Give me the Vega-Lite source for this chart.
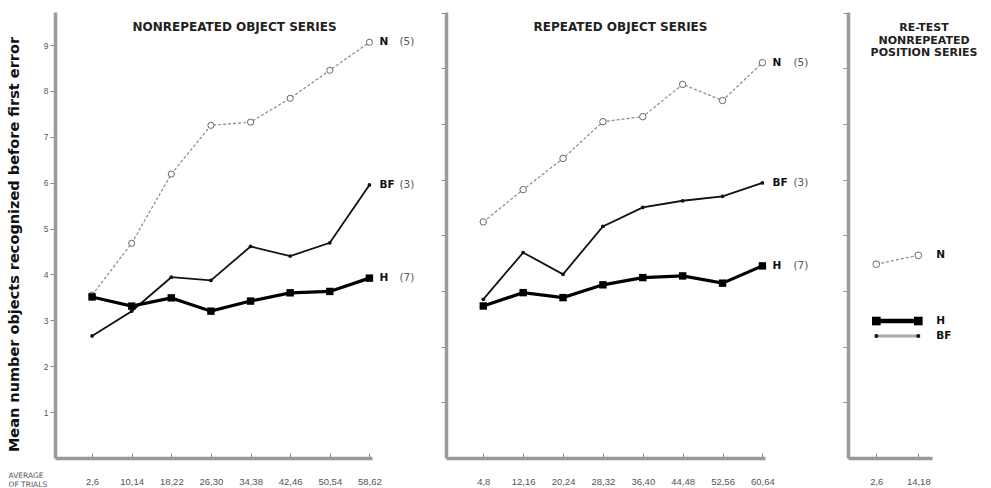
{
  "$schema": "https://vega.github.io/schema/vega-lite/v6.json",
  "padding": {"left": 6, "top": 12, "right": 4, "bottom": 0},
  "background": "white",
  "datasets": {
    "main": [
      {"panel": "A", "trials": "2,6", "ord": 1, "series": "N", "value": 3.55},
      {"panel": "A", "trials": "10,14", "ord": 2, "series": "N", "value": 4.68},
      {"panel": "A", "trials": "18,22", "ord": 3, "series": "N", "value": 6.19},
      {"panel": "A", "trials": "26,30", "ord": 4, "series": "N", "value": 7.25},
      {"panel": "A", "trials": "34,38", "ord": 5, "series": "N", "value": 7.32},
      {"panel": "A", "trials": "42,46", "ord": 6, "series": "N", "value": 7.84},
      {"panel": "A", "trials": "50,54", "ord": 7, "series": "N", "value": 8.45},
      {"panel": "A", "trials": "58,62", "ord": 8, "series": "N", "value": 9.06},
      {"panel": "A", "trials": "2,6", "ord": 1, "series": "BF", "value": 2.66},
      {"panel": "A", "trials": "10,14", "ord": 2, "series": "BF", "value": 3.2},
      {"panel": "A", "trials": "18,22", "ord": 3, "series": "BF", "value": 3.94},
      {"panel": "A", "trials": "26,30", "ord": 4, "series": "BF", "value": 3.87},
      {"panel": "A", "trials": "34,38", "ord": 5, "series": "BF", "value": 4.61},
      {"panel": "A", "trials": "42,46", "ord": 6, "series": "BF", "value": 4.4},
      {"panel": "A", "trials": "50,54", "ord": 7, "series": "BF", "value": 4.69},
      {"panel": "A", "trials": "58,62", "ord": 8, "series": "BF", "value": 5.95},
      {"panel": "A", "trials": "2,6", "ord": 1, "series": "H", "value": 3.51},
      {"panel": "A", "trials": "10,14", "ord": 2, "series": "H", "value": 3.31},
      {"panel": "A", "trials": "18,22", "ord": 3, "series": "H", "value": 3.49},
      {"panel": "A", "trials": "26,30", "ord": 4, "series": "H", "value": 3.2},
      {"panel": "A", "trials": "34,38", "ord": 5, "series": "H", "value": 3.42},
      {"panel": "A", "trials": "42,46", "ord": 6, "series": "H", "value": 3.6},
      {"panel": "A", "trials": "50,54", "ord": 7, "series": "H", "value": 3.63},
      {"panel": "A", "trials": "58,62", "ord": 8, "series": "H", "value": 3.92},
      {"panel": "B", "trials": "4,8", "ord": 1, "series": "N", "value": 4.24},
      {"panel": "B", "trials": "12,16", "ord": 2, "series": "N", "value": 4.82},
      {"panel": "B", "trials": "20,24", "ord": 3, "series": "N", "value": 5.38},
      {"panel": "B", "trials": "28,32", "ord": 4, "series": "N", "value": 6.04},
      {"panel": "B", "trials": "36,40", "ord": 5, "series": "N", "value": 6.13},
      {"panel": "B", "trials": "44,48", "ord": 6, "series": "N", "value": 6.71},
      {"panel": "B", "trials": "52,56", "ord": 7, "series": "N", "value": 6.42},
      {"panel": "B", "trials": "60,64", "ord": 8, "series": "N", "value": 7.1},
      {"panel": "B", "trials": "4,8", "ord": 1, "series": "BF", "value": 2.85},
      {"panel": "B", "trials": "12,16", "ord": 2, "series": "BF", "value": 3.69},
      {"panel": "B", "trials": "20,24", "ord": 3, "series": "BF", "value": 3.3},
      {"panel": "B", "trials": "28,32", "ord": 4, "series": "BF", "value": 4.16},
      {"panel": "B", "trials": "36,40", "ord": 5, "series": "BF", "value": 4.5},
      {"panel": "B", "trials": "44,48", "ord": 6, "series": "BF", "value": 4.62},
      {"panel": "B", "trials": "52,56", "ord": 7, "series": "BF", "value": 4.7},
      {"panel": "B", "trials": "60,64", "ord": 8, "series": "BF", "value": 4.94},
      {"panel": "B", "trials": "4,8", "ord": 1, "series": "H", "value": 2.73},
      {"panel": "B", "trials": "12,16", "ord": 2, "series": "H", "value": 2.97},
      {"panel": "B", "trials": "20,24", "ord": 3, "series": "H", "value": 2.88},
      {"panel": "B", "trials": "28,32", "ord": 4, "series": "H", "value": 3.11},
      {"panel": "B", "trials": "36,40", "ord": 5, "series": "H", "value": 3.24},
      {"panel": "B", "trials": "44,48", "ord": 6, "series": "H", "value": 3.27},
      {"panel": "B", "trials": "52,56", "ord": 7, "series": "H", "value": 3.14},
      {"panel": "B", "trials": "60,64", "ord": 8, "series": "H", "value": 3.45},
      {"panel": "C", "trials": "2,6", "ord": 1, "series": "N", "value": 3.48},
      {"panel": "C", "trials": "14,18", "ord": 2, "series": "N", "value": 3.64},
      {"panel": "C", "trials": "2,6", "ord": 1, "series": "H", "value": 2.46},
      {"panel": "C", "trials": "14,18", "ord": 2, "series": "H", "value": 2.46},
      {"panel": "C", "trials": "2,6", "ord": 1, "series": "BF", "value": 2.19},
      {"panel": "C", "trials": "14,18", "ord": 2, "series": "BF", "value": 2.19}
    ],
    "groups": [
      {"series": "N", "n": "(5)"},
      {"series": "BF", "n": "(3)"},
      {"series": "H", "n": "(7)"}
    ]
  },
  "bounds": "flush",
  "spacing": 74,
  "hconcat": [
    {
      "width": 317,
      "height": 446,
      "data": {"name": "main"},
      "transform": [
        {"filter": "datum.panel == 'A'"},
        {"lookup": "series", "from": {"data": {"name": "groups"}, "key": "series", "fields": ["n"]}}
      ],
      "title": {"text": "NONREPEATED OBJECT SERIES", "dx": 21, "offset": -22},
      "encoding": {
        "x": {
          "field": "trials", "type": "ordinal", "sort": {"field": "ord", "op": "min"},
          "scale": {"type": "point", "paddingOuter": 0.38, "align": 0.935},
          "axis": {
            "title": ["AVERAGE", "OF TRIALS"], "titleX": -47, "titleY": 13, "titleAlign": "left",
            "titleBaseline": "top", "titleFontSize": 7.5, "titleLineHeight": 9, "titleFontWeight": "normal",
            "titleColor": "#555", "titleFont": "DejaVu Sans"
          }
        },
        "y": {
          "field": "value", "type": "quantitative",
          "scale": {"domain": [0, 9.72], "nice": false, "zero": true},
          "axis": {
            "title": "Mean number objects recognized before first error",
            "values": [1, 2, 3, 4, 5, 6, 7, 8, 9], "format": "d",
            "titleFont": "DejaVu Sans", "titleFontSize": 14.5, "titleFontWeight": "bold", "titleColor": "#111",
            "titlePadding": 22, "titleY": 232, "labelPadding": 2
          }
        }
      },
      "layer": [
        {"transform": [{"filter": "datum.series == 'N'"}], "mark": {"type": "line", "stroke": "#8a8a8a", "strokeWidth": 1.2, "strokeDash": [3, 2]}},
        {"transform": [{"filter": "datum.series == 'N'"}], "mark": {"type": "point", "shape": "circle", "filled": false, "fill": "white", "fillOpacity": 1, "stroke": "#666", "strokeWidth": 1, "size": 38, "opacity": 1}},
        {"transform": [{"filter": "datum.series == 'BF'"}], "mark": {"type": "line", "stroke": "#111", "strokeWidth": 1.8}},
        {"transform": [{"filter": "datum.series == 'BF'"}], "mark": {"type": "circle", "fill": "#111", "size": 14, "opacity": 1}},
        {"transform": [{"filter": "datum.series == 'H'"}], "mark": {"type": "line", "stroke": "#000", "strokeWidth": 3.2}},
        {"transform": [{"filter": "datum.series == 'H'"}], "mark": {"type": "square", "fill": "#000", "size": 55, "opacity": 1}},
        {"transform": [{"filter": "datum.ord == 8"}], "mark": {"type": "text", "align": "left", "dx": 10, "font": "DejaVu Sans", "fontWeight": "bold", "fontSize": 10.5, "fill": "#111"}, "encoding": {"text": {"field": "series"}}},
        {"transform": [{"filter": "datum.ord == 8"}], "mark": {"type": "text", "align": "left", "dx": 30, "font": "DejaVu Sans", "fontSize": 10.5, "fill": "#555"}, "encoding": {"text": {"field": "n"}}}
      ]
    },
    {
      "bounds": "flush",
      "spacing": 83,
      "hconcat": [
        {
          "width": 319,
          "height": 446,
          "data": {"name": "main"},
          "transform": [
            {"filter": "datum.panel == 'B'"},
            {"lookup": "series", "from": {"data": {"name": "groups"}, "key": "series", "fields": ["n"]}}
          ],
          "title": {"text": "REPEATED OBJECT SERIES", "dx": 15, "offset": -22},
          "encoding": {
            "x": {
              "field": "trials", "type": "ordinal", "sort": {"field": "ord", "op": "min"},
              "scale": {"type": "point", "paddingOuter": 0.377, "align": 0.935},
              "axis": {"title": null}
            },
            "y": {
              "field": "value", "type": "quantitative",
              "scale": {"domain": [0, 8.01], "nice": false, "zero": true},
              "axis": {"title": null, "labels": false, "values": [1, 2, 3, 4, 5, 6, 7, 8]}
            }
          },
          "layer": [
            {"transform": [{"filter": "datum.series == 'N'"}], "mark": {"type": "line", "stroke": "#8a8a8a", "strokeWidth": 1.2, "strokeDash": [3, 2]}},
            {"transform": [{"filter": "datum.series == 'N'"}], "mark": {"type": "point", "shape": "circle", "filled": false, "fill": "white", "fillOpacity": 1, "stroke": "#666", "strokeWidth": 1, "size": 42, "opacity": 1}},
            {"transform": [{"filter": "datum.series == 'BF'"}], "mark": {"type": "line", "stroke": "#111", "strokeWidth": 1.8}},
            {"transform": [{"filter": "datum.series == 'BF'"}], "mark": {"type": "circle", "fill": "#111", "size": 14, "opacity": 1}},
            {"transform": [{"filter": "datum.series == 'H'"}], "mark": {"type": "line", "stroke": "#000", "strokeWidth": 3.2}},
            {"transform": [{"filter": "datum.series == 'H'"}], "mark": {"type": "square", "fill": "#000", "size": 55, "opacity": 1}},
            {"transform": [{"filter": "datum.ord == 8"}], "mark": {"type": "text", "align": "left", "dx": 10, "font": "DejaVu Sans", "fontWeight": "bold", "fontSize": 10.5, "fill": "#111"}, "encoding": {"text": {"field": "series"}}},
            {"transform": [{"filter": "datum.ord == 8"}], "mark": {"type": "text", "align": "left", "dx": 31, "font": "DejaVu Sans", "fontSize": 10.5, "fill": "#555"}, "encoding": {"text": {"field": "n"}}}
          ]
        },
        {
          "width": 84,
          "height": 446,
          "data": {"name": "main"},
          "transform": [{"filter": "datum.panel == 'C'"}],
          "title": {"text": ["RE-TEST", "NONREPEATED", "POSITION SERIES"], "dx": 34, "offset": -46, "fontSize": 11, "lineHeight": 12.5},
          "encoding": {
            "x": {
              "field": "trials", "type": "ordinal", "sort": {"field": "ord", "op": "min"},
              "scale": {"type": "point", "paddingOuter": 0.524, "align": 0.674},
              "axis": {"title": null}
            },
            "y": {
              "field": "value", "type": "quantitative",
              "scale": {"domain": [0, 8.01], "nice": false, "zero": true},
              "axis": {"title": null, "labels": false, "values": [1, 2, 3, 4, 5, 6, 7, 8]}
            }
          },
          "layer": [
            {"transform": [{"filter": "datum.series == 'N'"}], "mark": {"type": "line", "stroke": "#8a8a8a", "strokeWidth": 1.2, "strokeDash": [3, 2]}},
            {"transform": [{"filter": "datum.series == 'N'"}], "mark": {"type": "point", "shape": "circle", "filled": false, "fill": "white", "fillOpacity": 1, "stroke": "#666", "strokeWidth": 1, "size": 45, "opacity": 1}},
            {"transform": [{"filter": "datum.series == 'BF'"}], "mark": {"type": "line", "stroke": "#aaaaaa", "strokeWidth": 3}},
            {"transform": [{"filter": "datum.series == 'BF'"}], "mark": {"type": "circle", "fill": "#111", "size": 16, "opacity": 1}},
            {"transform": [{"filter": "datum.series == 'H'"}], "mark": {"type": "line", "stroke": "#000", "strokeWidth": 4.5}},
            {"transform": [{"filter": "datum.series == 'H'"}], "mark": {"type": "square", "fill": "#000", "size": 75, "opacity": 1}},
            {"transform": [{"filter": "datum.ord == 2"}], "mark": {"type": "text", "align": "left", "dx": 18, "font": "DejaVu Sans", "fontWeight": "bold", "fontSize": 10.5, "fill": "#111"}, "encoding": {"text": {"field": "series"}}}
          ]
        }
      ]
    }
  ],
  "config": {
    "view": {"stroke": null},
    "font": "DejaVu Sans",
    "title": {
      "font": "DejaVu Sans", "fontSize": 12, "fontWeight": "bold", "color": "#222",
      "anchor": "middle", "frame": "group", "baseline": "top", "lineHeight": 12.5
    },
    "axis": {
      "grid": false,
      "domainColor": "#9a9a9a", "domainWidth": 3.5,
      "tickColor": "#8a8a8a", "tickWidth": 1,
      "labelFont": "Liberation Sans", "labelColor": "#555", "labelFontSize": 9
    },
    "axisY": {"tickSize": 5, "labelPadding": 2, "labelFontSize": 8.5},
    "axisX": {"tickSize": -5, "labelAngle": 0, "labelPadding": 23, "labelFontSize": 9.5}
  }
}
